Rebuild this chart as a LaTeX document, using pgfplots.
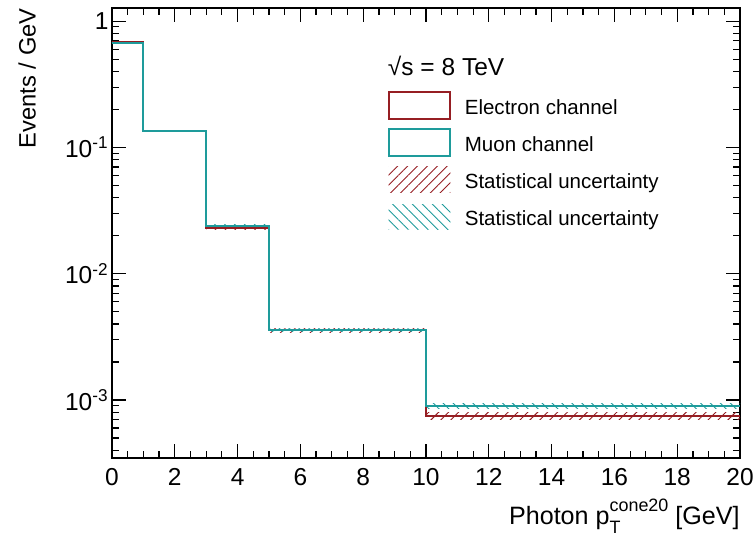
\documentclass[border=0pt]{standalone}
\usepackage{fontspec}
\setmainfont{Liberation Sans}
\usepackage{pgfplots}
\pgfplotsset{compat=1.18}
\usetikzlibrary{patterns.meta}
\definecolor{ered}{RGB}{150,30,35}
\definecolor{mcyan}{RGB}{30,155,155}
\tikzset{hatchR/.style={pattern={Lines[angle=45,distance=3.5bp,line width=0.45bp]}, pattern color=ered},
         hatchC/.style={pattern={Lines[angle=-45,distance=3.5bp,line width=0.45bp]}, pattern color=mcyan},
         legtext/.style={anchor=base west, inner sep=0pt, font=\fontsize{10.3}{12}\selectfont}}
\begin{document}
\begin{tikzpicture}
\begin{axis}[name=ax, scale only axis, width=314bp, height=225bp,
  ymode=log, log basis y=10,
  xmin=0, xmax=20, ymin=3.47e-4, ymax=1.27,
  xtick={0,2,...,20}, minor x tick num=3,
  yticklabel={\pgfmathparse{int(round(\tick))}\ifnum\pgfmathresult=0 1\else 10\textsuperscript{\pgfmathresult}\fi},
  tick align=inside, major tick length=7bp, minor tick length=3.5bp,
  axis line style={line width=0.8bp},
  every tick/.style={black, line width=0.6bp},
  ticklabel style={font=\fontsize{12.3}{14}\selectfont},
  xticklabel style={inner sep=0pt, yshift=-5bp},
  yticklabel style={inner sep=1.5bp},
  /pgf/number format/assume math mode=true,
  xlabel={Photon p\rlap{\raisebox{-0.36em}{\fontsize{9}{9}\selectfont T}}\raisebox{0.5em}{\fontsize{9}{9}\selectfont cone20} [GeV]},
  xlabel style={at={(rel axis cs:1,0)}, anchor=base east, yshift=-33bp, inner sep=0pt, font=\fontsize{12.6}{14}\selectfont},
  ylabel={Events / GeV},
  ylabel style={at={(rel axis cs:-0.1208,1)}, anchor=south east, inner sep=0pt, font=\fontsize{11.9}{14}\selectfont},
]
% statistical uncertainty bands, electron
\addplot[draw=none, hatchR, forget plot] coordinates {(0,0.670)(1,0.670)(1,0.690)(0,0.690)} --cycle;
\addplot[draw=none, hatchR, forget plot] coordinates {(1,0.1325)(3,0.1325)(3,0.1367)(1,0.1367)} --cycle;
\addplot[draw=none, hatchR, forget plot] coordinates {(3,0.0222)(5,0.0222)(5,0.0236)(3,0.0236)} --cycle;
\addplot[draw=none, hatchR, forget plot] coordinates {(5,0.00344)(10,0.00344)(10,0.00368)(5,0.00368)} --cycle;
\addplot[draw=none, hatchR, forget plot] coordinates {(10,0.000695)(20,0.000695)(20,0.000800)(10,0.000800)} --cycle;
% statistical uncertainty bands, muon
\addplot[draw=none, hatchC, forget plot] coordinates {(0,0.660)(1,0.660)(1,0.680)(0,0.680)} --cycle;
\addplot[draw=none, hatchC, forget plot] coordinates {(1,0.1325)(3,0.1325)(3,0.1367)(1,0.1367)} --cycle;
\addplot[draw=none, hatchC, forget plot] coordinates {(3,0.0232)(5,0.0232)(5,0.0246)(3,0.0246)} --cycle;
\addplot[draw=none, hatchC, forget plot] coordinates {(5,0.00346)(10,0.00346)(10,0.00370)(5,0.00370)} --cycle;
\addplot[draw=none, hatchC, forget plot] coordinates {(10,0.000855)(20,0.000855)(20,0.000945)(10,0.000945)} --cycle;
% histograms
\addplot[const plot, ered, line width=1bp, forget plot] coordinates {(0,0.680)(1,0.1346)(3,0.0229)(5,0.00356)(10,0.000746)(20,0.000746)};
\addplot[const plot, mcyan, line width=1bp, forget plot] coordinates {(0,0.670)(1,0.1346)(3,0.0239)(5,0.00358)(10,0.000900)(20,0.000900)};
% legend (drawn by hand)
\node[anchor=base west, inner sep=0pt, font=\fontsize{12.3}{14}\selectfont] at (rel axis cs:0.4388,0.849) {√s = 8 TeV};
\draw[ered, line width=1bp] (rel axis cs:0.4404,0.7527) rectangle (rel axis cs:0.5390,0.8133);
\node[legtext] at (rel axis cs:0.5612,0.7644) {Electron channel};
\draw[mcyan, line width=1bp] (rel axis cs:0.4404,0.6704) rectangle (rel axis cs:0.5390,0.7311);
\node[legtext] at (rel axis cs:0.5612,0.6822) {Muon channel};
\fill[hatchR] (rel axis cs:0.4404,0.5907) rectangle (rel axis cs:0.5390,0.6467);
\node[legtext] at (rel axis cs:0.5612,0.6000) {Statistical uncertainty};
\fill[hatchC] (rel axis cs:0.4404,0.5089) rectangle (rel axis cs:0.5390,0.5644);
\node[legtext] at (rel axis cs:0.5612,0.5156) {Statistical uncertainty};
\end{axis}
\pgfresetboundingbox
\path[use as bounding box] ([xshift=-56bp,yshift=-43bp]ax.south west) rectangle ([xshift=8bp,yshift=4bp]ax.north east);
\end{tikzpicture}
\end{document}
